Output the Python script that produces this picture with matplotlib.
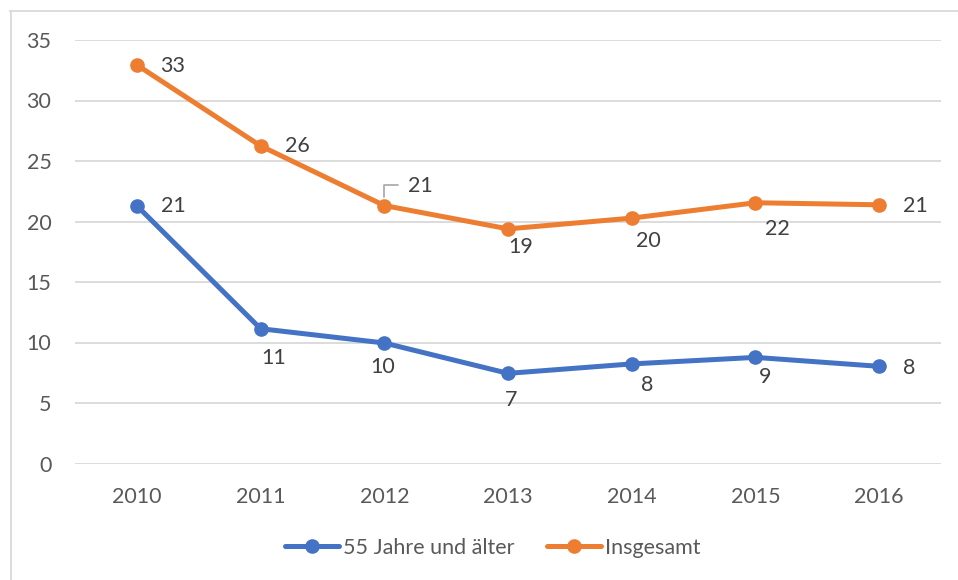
import matplotlib.pyplot as plt
from matplotlib.lines import Line2D

years = ['2010', '2011', '2012', '2013', '2014', '2015', '2016']
aeltere = [21.3, 11.14, 9.96, 7.45, 8.23, 8.77, 8.03]
insgesamt = [32.94, 26.25, 21.32, 19.39, 20.28, 21.55, 21.38]

# label offsets in pixels (dx, dy, ha), dy positive = down
off_aeltere = [(24, 0, 'left'), (13, 29, 'center'), (-2, 24, 'center'),
               (3, 27, 'center'), (15, 21, 'center'), (10, 20, 'center'),
               (24, 2, 'left')]
off_insgesamt = [(23, 1, 'left'), (24, 0, 'left'), (24, -20, 'left'),
                 (13, 18, 'center'), (17, 23, 'center'), (22, 26, 'center'),
                 (24, 1, 'left')]

blue = '#4472C4'
orange = '#ED7D31'
grid = '#D9D9D9'
txt = '#595959'
lbl = '#404040'
fs = 15.5

plt.rcParams['font.family'] = ['Lato', 'DejaVu Sans']

fig = plt.figure(figsize=(9.58, 5.8), dpi=100)
ax = fig.add_axes([75 / 958, 1 - 463.5 / 580, 866 / 958, 423.5 / 580])

x = range(len(years))
ax.plot(x, aeltere, color=blue, lw=3.6, marker='o', ms=9.5,
        solid_capstyle='round', zorder=3, label='55 Jahre und älter')
ax.plot(x, insgesamt, color=orange, lw=3.6, marker='o', ms=9.5,
        solid_capstyle='round', zorder=3, label='Insgesamt')

for series, offs in ((aeltere, off_aeltere), (insgesamt, off_insgesamt)):
    for i, (v, (dx, dy, ha)) in enumerate(zip(series, offs)):
        ax.annotate(f'{v:.0f}', (i, v), xytext=(dx, -dy),
                    textcoords='offset pixels', ha=ha, va='center',
                    fontsize=fs, color=lbl, zorder=4)

# leader line for the 2012 total label
ax.annotate('', (2, insgesamt[2]), xytext=(14, 21), textcoords='offset pixels',
            arrowprops=dict(arrowstyle='-', color='#A6A6A6', lw=1.2,
                            connectionstyle='angle,angleA=0,angleB=90,rad=0',
                            shrinkA=0, shrinkB=6))

ax.set_xlim(-0.5, 6.5)
ax.set_ylim(0, 35)
ax.set_yticks(range(0, 36, 5))
ax.set_xticks(list(x))
ax.set_xticklabels(years)
ax.grid(axis='y', color=grid, lw=1.3)
ax.set_axisbelow(True)
for s in ax.spines.values():
    s.set_visible(False)
ax.tick_params(length=0, labelsize=fs, colors=txt)
ax.tick_params(axis='y', pad=17)
ax.tick_params(axis='x', pad=17)

handles, labels = ax.get_legend_handles_labels()
leg = fig.legend(handles, labels, loc='center', bbox_to_anchor=(493 / 958, 1 - 548 / 580),
                 ncol=2, frameon=False, fontsize=fs, handlelength=2.5,
                 handletextpad=0.2, columnspacing=1.5, labelcolor=txt)

# outer chart border (top and left edges)
fig.add_artist(Line2D([10 / 958, 1], [1 - 10.5 / 580] * 2, color=grid, lw=1.3))
fig.add_artist(Line2D([10.5 / 958] * 2, [0, 1 - 10.5 / 580], color=grid, lw=1.3))

fig.savefig('out.png', dpi=100)
